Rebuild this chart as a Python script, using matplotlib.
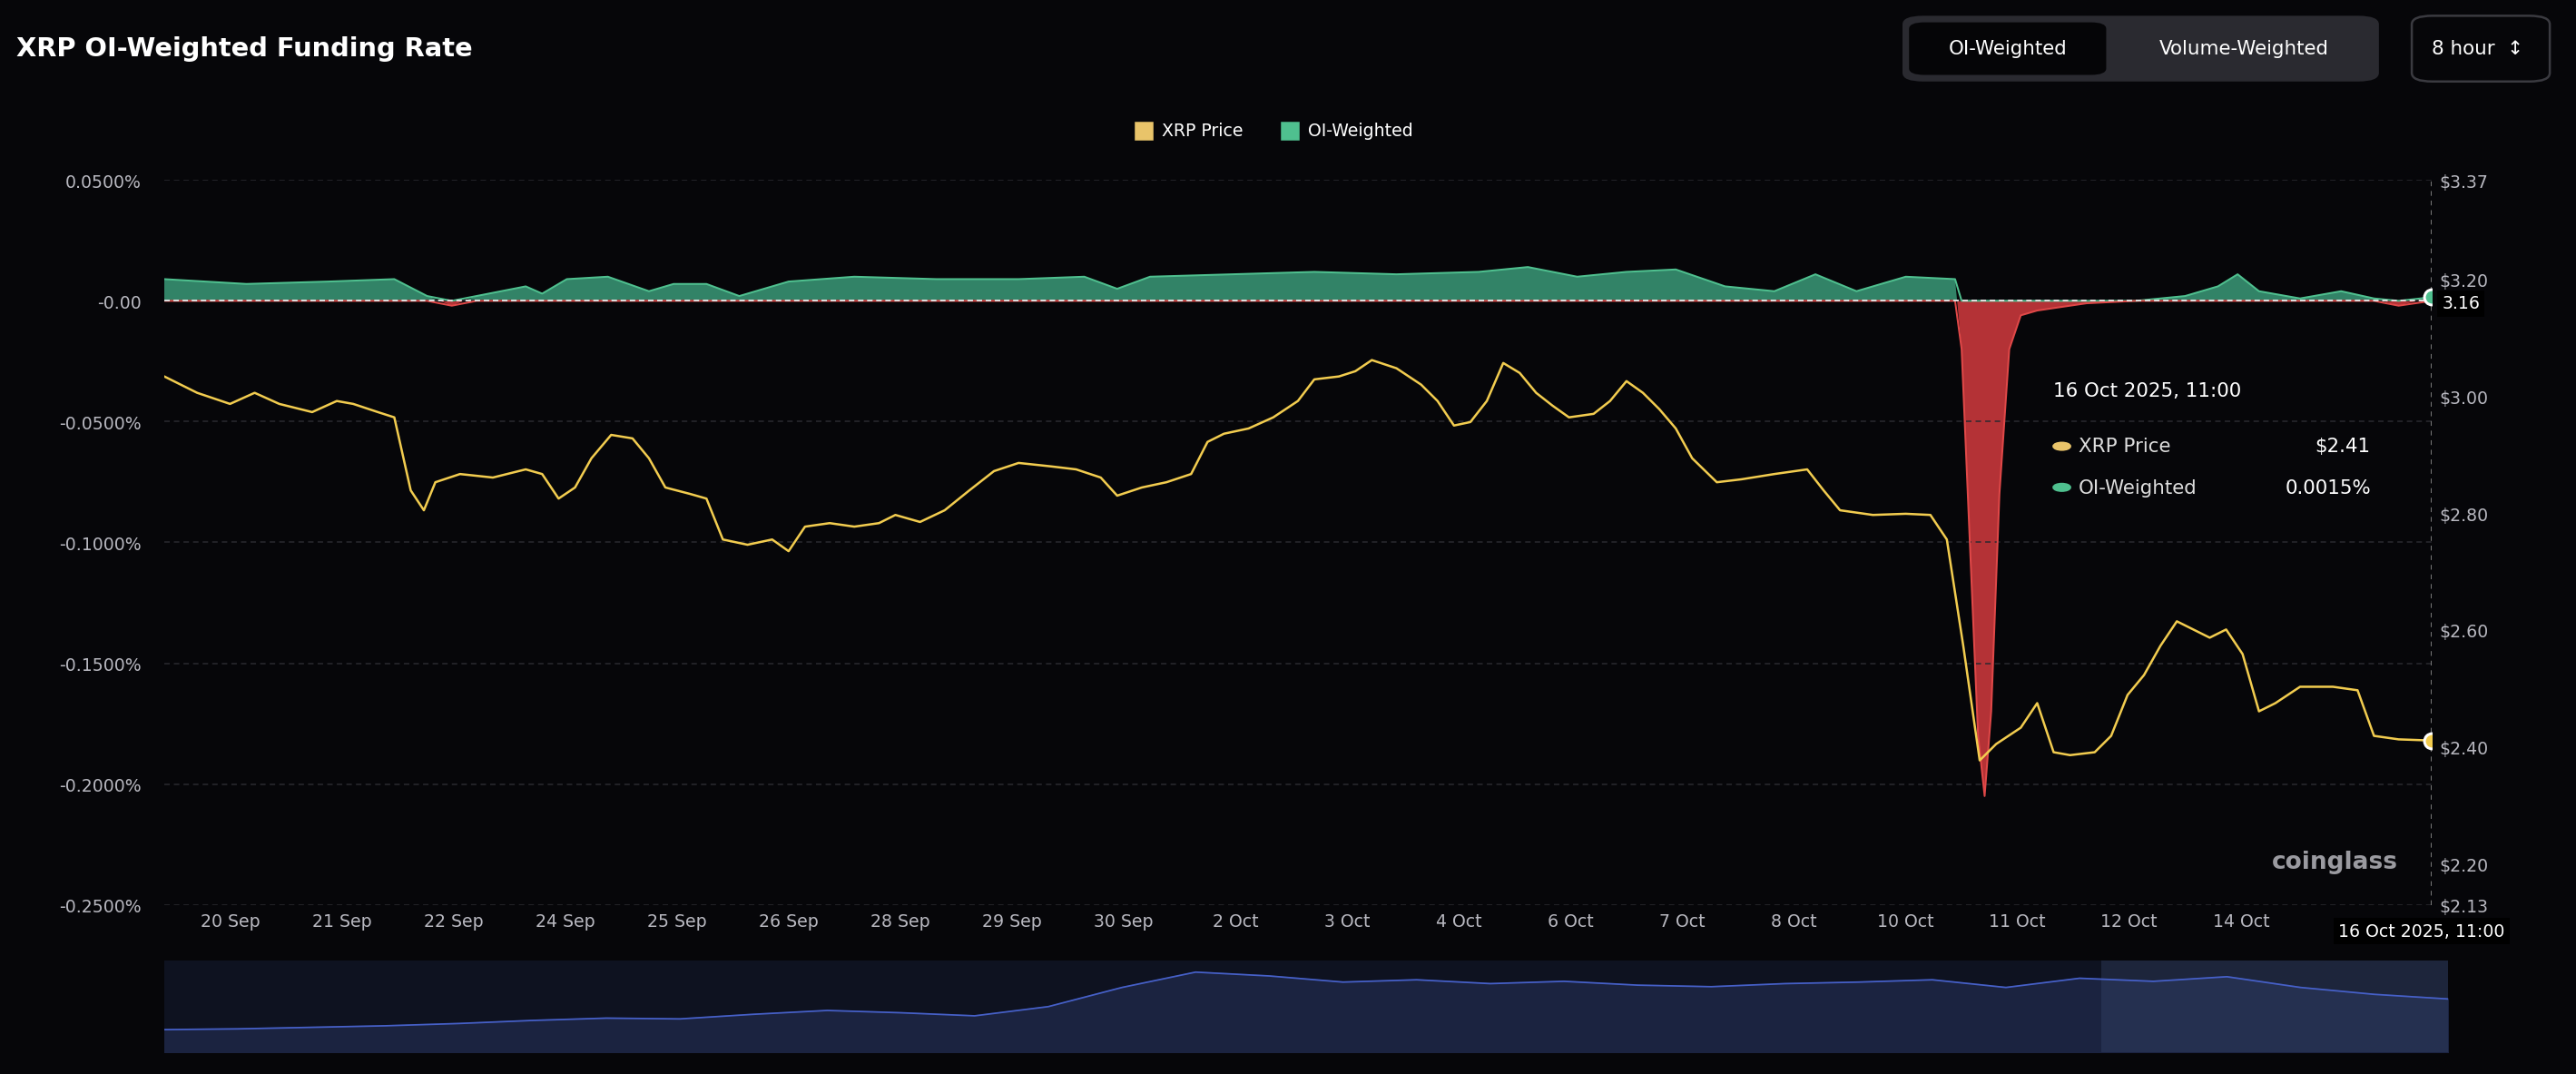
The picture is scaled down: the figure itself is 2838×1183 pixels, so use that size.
import numpy as np
import matplotlib.pyplot as plt
from matplotlib.patches import FancyBboxPatch

# chart position (0..1380 across the plot) and XRP price
price_t = [0, 20, 40, 55, 70, 90, 105, 115, 130, 140, 150, 158, 165, 180, 200, 220, 230, 240, 250, 260,
           272, 285, 295, 305, 320, 330, 340, 355, 370, 380, 390, 405, 420, 435, 445, 460, 475, 490, 505, 520,
           540, 555, 570, 580, 595, 610, 625, 635, 645, 660, 675, 690, 700, 715, 725, 735, 750, 765, 775, 785,
           795, 805, 815, 825, 835, 845, 855, 870, 880, 890, 900, 910, 920, 930, 945, 960, 980, 1000, 1010, 1020,
           1040, 1060, 1075, 1085, 1095, 1105, 1115, 1130, 1140, 1150, 1160, 1175, 1185, 1195, 1205, 1215, 1225,
           1235, 1245, 1255, 1265, 1275, 1285, 1300, 1320, 1335, 1345, 1360, 1380]
price = [3.034, 3.006, 2.987, 3.006, 2.987, 2.973, 2.992, 2.987, 2.973, 2.964, 2.839, 2.805, 2.853, 2.867, 2.861, 2.875,
         2.867, 2.825, 2.844, 2.894, 2.934, 2.928, 2.894, 2.844, 2.833, 2.825, 2.755, 2.746, 2.755, 2.735, 2.777,
         2.783, 2.777, 2.783, 2.797, 2.785, 2.805, 2.839, 2.872, 2.886, 2.880, 2.875, 2.861, 2.830, 2.844, 2.853,
         2.867, 2.922, 2.936, 2.945, 2.964, 2.992, 3.029, 3.034, 3.043, 3.062, 3.048, 3.020, 2.992, 2.950, 2.956,
         2.992, 3.057, 3.040, 3.006, 2.984, 2.964, 2.970, 2.992, 3.026, 3.006, 2.978, 2.945, 2.894, 2.853, 2.858,
         2.867, 2.875, 2.839, 2.805, 2.797, 2.799, 2.797, 2.755, 2.573, 2.377, 2.405, 2.433, 2.475, 2.391, 2.386,
         2.391, 2.419, 2.489, 2.523, 2.573, 2.615, 2.601, 2.587, 2.601, 2.559, 2.461, 2.475, 2.503, 2.503, 2.497,
         2.419, 2.413, 2.411]
price_t = price_t[:len(price)]

# OI-weighted funding rate, %
fund_t = [0, 50, 100, 140, 160, 175, 190, 220, 230, 245, 270, 295, 310, 330, 350, 380, 420, 470, 520, 560, 580,
          600, 700, 750, 800, 830, 860, 890, 920, 950, 980, 1005, 1030, 1060, 1090, 1094, 1099, 1104, 1108, 1112,
          1117, 1123, 1130, 1140, 1170, 1200, 1230, 1250, 1262, 1275, 1300, 1325, 1345, 1360, 1380]
fund = [0.009, 0.007, 0.008, 0.009, 0.002, -0.002, 0.002, 0.006, 0.003, 0.009, 0.010, 0.004, 0.007, 0.007, 0.002,
        0.008, 0.010, 0.009, 0.009, 0.010, 0.005, 0.010, 0.012, 0.011, 0.012, 0.014, 0.010, 0.012, 0.013, 0.006,
        0.004, 0.011, 0.004, 0.010, 0.009, -0.02, -0.10, -0.18, -0.205, -0.17, -0.08, -0.02, -0.006, -0.004,
        -0.001, 0.0, 0.002, 0.006, 0.011, 0.004, 0.001, 0.004, 0.001, -0.002, 0.0015]

x_labels = ['20 Sep', '21 Sep', '22 Sep', '24 Sep', '25 Sep', '26 Sep', '28 Sep', '29 Sep', '30 Sep', '2 Oct',
            '3 Oct', '4 Oct', '6 Oct', '7 Oct', '8 Oct', '10 Oct', '11 Oct', '12 Oct', '14 Oct']
left_ticks = [0.05, 0.0, -0.05, -0.10, -0.15, -0.20, -0.25]
left_labels = ['0.0500%', '-0.00', '-0.0500%', '-0.1000%', '-0.1500%', '-0.2000%', '-0.2500%']
right_ticks = [3.37, 3.20, 3.00, 2.80, 2.60, 2.40, 2.20, 2.13]

# navigator history
nav = [2.30, 2.31, 2.33, 2.35, 2.38, 2.42, 2.45, 2.44, 2.50, 2.55, 2.52, 2.48, 2.60, 2.85, 3.05, 3.00, 2.92,
       2.95, 2.90, 2.93, 2.88, 2.86, 2.90, 2.92, 2.95, 2.85, 2.97, 2.93, 2.99, 2.85, 2.76, 2.70]

BG = '#060609'
GRID = '#2a2a30'
TXT = '#b8b8c0'
W, H = 1568, 654

fig = plt.figure(figsize=(15.68, 6.54), dpi=181, facecolor=BG)

def box(x0, y0, x1, y1):
    return [x0 / W, 1 - y1 / H, (x1 - x0) / W, (y1 - y0) / H]

ax = fig.add_axes(box(100, 110, 1480, 551))
ax.set_facecolor(BG)
ax2 = ax.twinx()
ax.set_xlim(0, 1380)
ax.set_ylim(-0.25, 0.05)
ax2.set_ylim(2.13, 3.37)

f = np.array(fund)
ax.fill_between(fund_t, f, 0, where=f >= 0, interpolate=True, color='#3a9a78', alpha=0.85, lw=0)
ax.fill_between(fund_t, f, 0, where=f <= 0, interpolate=True, color='#c8383c', alpha=0.9, lw=0)
ax.plot(fund_t, np.maximum(f, 0), color='#4fc08f', lw=0.8)
ax.plot(fund_t, np.minimum(f, 0), color='#e04848', lw=0.8)
ax.axhline(0, color='#dddddd', lw=0.8, ls=(0, (3, 2)))
ax2.plot(price_t, price, color='#f2cc4f', lw=1.0)
ax2.scatter([price_t[-1]], [price[-1]], s=45, color='#f2cc4f', edgecolor='white', lw=1.2, zorder=5)
ax.scatter([fund_t[-1]], [fund[-1]], s=45, color='#4fc08f', edgecolor='white', lw=1.2, zorder=5)
ax.axvline(1380, color='#888', lw=0.7, ls=(0, (3, 3)))

ax.set_yticks(left_ticks)
ax.set_yticklabels(left_labels)
ax2.set_yticks(right_ticks)
ax2.set_yticklabels(['$%.2f' % v for v in right_ticks])
ax.set_xticks([40 + 68 * i for i in range(len(x_labels))])
ax.set_xticklabels(x_labels)
for a in (ax, ax2):
    a.tick_params(colors=TXT, labelsize=7.5, length=0)
    for s in a.spines.values():
        s.set_visible(False)
ax.grid(axis='y', color=GRID, ls=(0, (4, 3)), lw=0.6)
ax.tick_params(axis='y', pad=10)

fig.text(10 / W, 1 - 30 / H, 'XRP OI-Weighted Funding Rate', color='white', fontsize=11.5,
         fontweight='bold', va='center')
# legend
fig.patches.append(plt.Rectangle((691 / W, 1 - 85 / H), 10 / W, 10 / H, color='#e9c46a', transform=fig.transFigure))
fig.text(707 / W, 1 - 80 / H, 'XRP Price', color='white', fontsize=7.5, va='center')
fig.patches.append(plt.Rectangle((780 / W, 1 - 85 / H), 10 / W, 10 / H, color='#4fc08f', transform=fig.transFigure))
fig.text(796 / W, 1 - 80 / H, 'OI-Weighted', color='white', fontsize=7.5, va='center')

# buttons
fig.patches.append(FancyBboxPatch((1158 / W, 1 - 50 / H), 290 / W, 40 / H, boxstyle='round,pad=0,rounding_size=0.008',
                                  fc='#2a2a30', ec='none', transform=fig.transFigure))
fig.patches.append(FancyBboxPatch((1162 / W, 1 - 46 / H), 120 / W, 32 / H, boxstyle='round,pad=0,rounding_size=0.006',
                                  fc='#050507', ec='none', transform=fig.transFigure))
fig.text(1222 / W, 1 - 30 / H, 'OI-Weighted', color='white', fontsize=8.5, ha='center', va='center')
fig.text(1366 / W, 1 - 30 / H, 'Volume-Weighted', color='white', fontsize=8.5, ha='center', va='center')
fig.patches.append(FancyBboxPatch((1468 / W, 1 - 50 / H), 84 / W, 40 / H, boxstyle='round,pad=0,rounding_size=0.008',
                                  fc=BG, ec='#3a3a40', transform=fig.transFigure))
fig.text(1508 / W, 1 - 30 / H, '8 hour  \u2195', color='white', fontsize=8.5, ha='center', va='center')

# tooltip
fig.text(1250 / W, 1 - 238 / H, '16 Oct 2025, 11:00', color='white', fontsize=8.5, va='center')
fig.patches.append(plt.Circle((1255 / W, 1 - 272 / H), 0.0032, color='#e9c46a', transform=fig.transFigure))
fig.text(1265 / W, 1 - 272 / H, 'XRP Price', color='#ddd', fontsize=8.5, va='center')
fig.text(1443 / W, 1 - 272 / H, '$2.41', color='white', fontsize=8.5, va='center', ha='right')
fig.patches.append(plt.Circle((1255 / W, 1 - 297 / H), 0.0032, color='#4fc08f', transform=fig.transFigure))
fig.text(1265 / W, 1 - 297 / H, 'OI-Weighted', color='#ddd', fontsize=8.5, va='center')
fig.text(1443 / W, 1 - 297 / H, '0.0015%', color='white', fontsize=8.5, va='center', ha='right')

fig.text(1498 / W, 1 - 185 / H, '3.16', color='white', fontsize=7.5, va='center', ha='center',
         bbox=dict(fc='black', ec='none', pad=2))
fig.text(1474 / W, 1 - 567 / H, '16 Oct 2025, 11:00', color='white', fontsize=7.5, va='center', ha='center',
         bbox=dict(fc='black', ec='none', pad=2))
fig.text(1383 / W, 1 - 525 / H, 'coinglass', color='#9a9aa0', fontsize=10.5, fontweight='bold', va='center')

# navigator
axn = fig.add_axes(box(100, 585, 1490, 641))
axn.set_facecolor('#0e1220')
axn.fill_between(range(len(nav)), nav, 2.0, color='#1b2340')
axn.plot(range(len(nav)), nav, color='#4660c8', lw=0.7)
axn.set_xlim(0, len(nav) - 1)
axn.set_ylim(2.0, 3.2)
axn.axvspan(26.3, len(nav) - 1, color='#3a4a70', alpha=0.35, lw=0)
axn.set_xticks([])
axn.set_yticks([])
for s in axn.spines.values():
    s.set_visible(False)

fig.savefig('out.png', facecolor=BG)
